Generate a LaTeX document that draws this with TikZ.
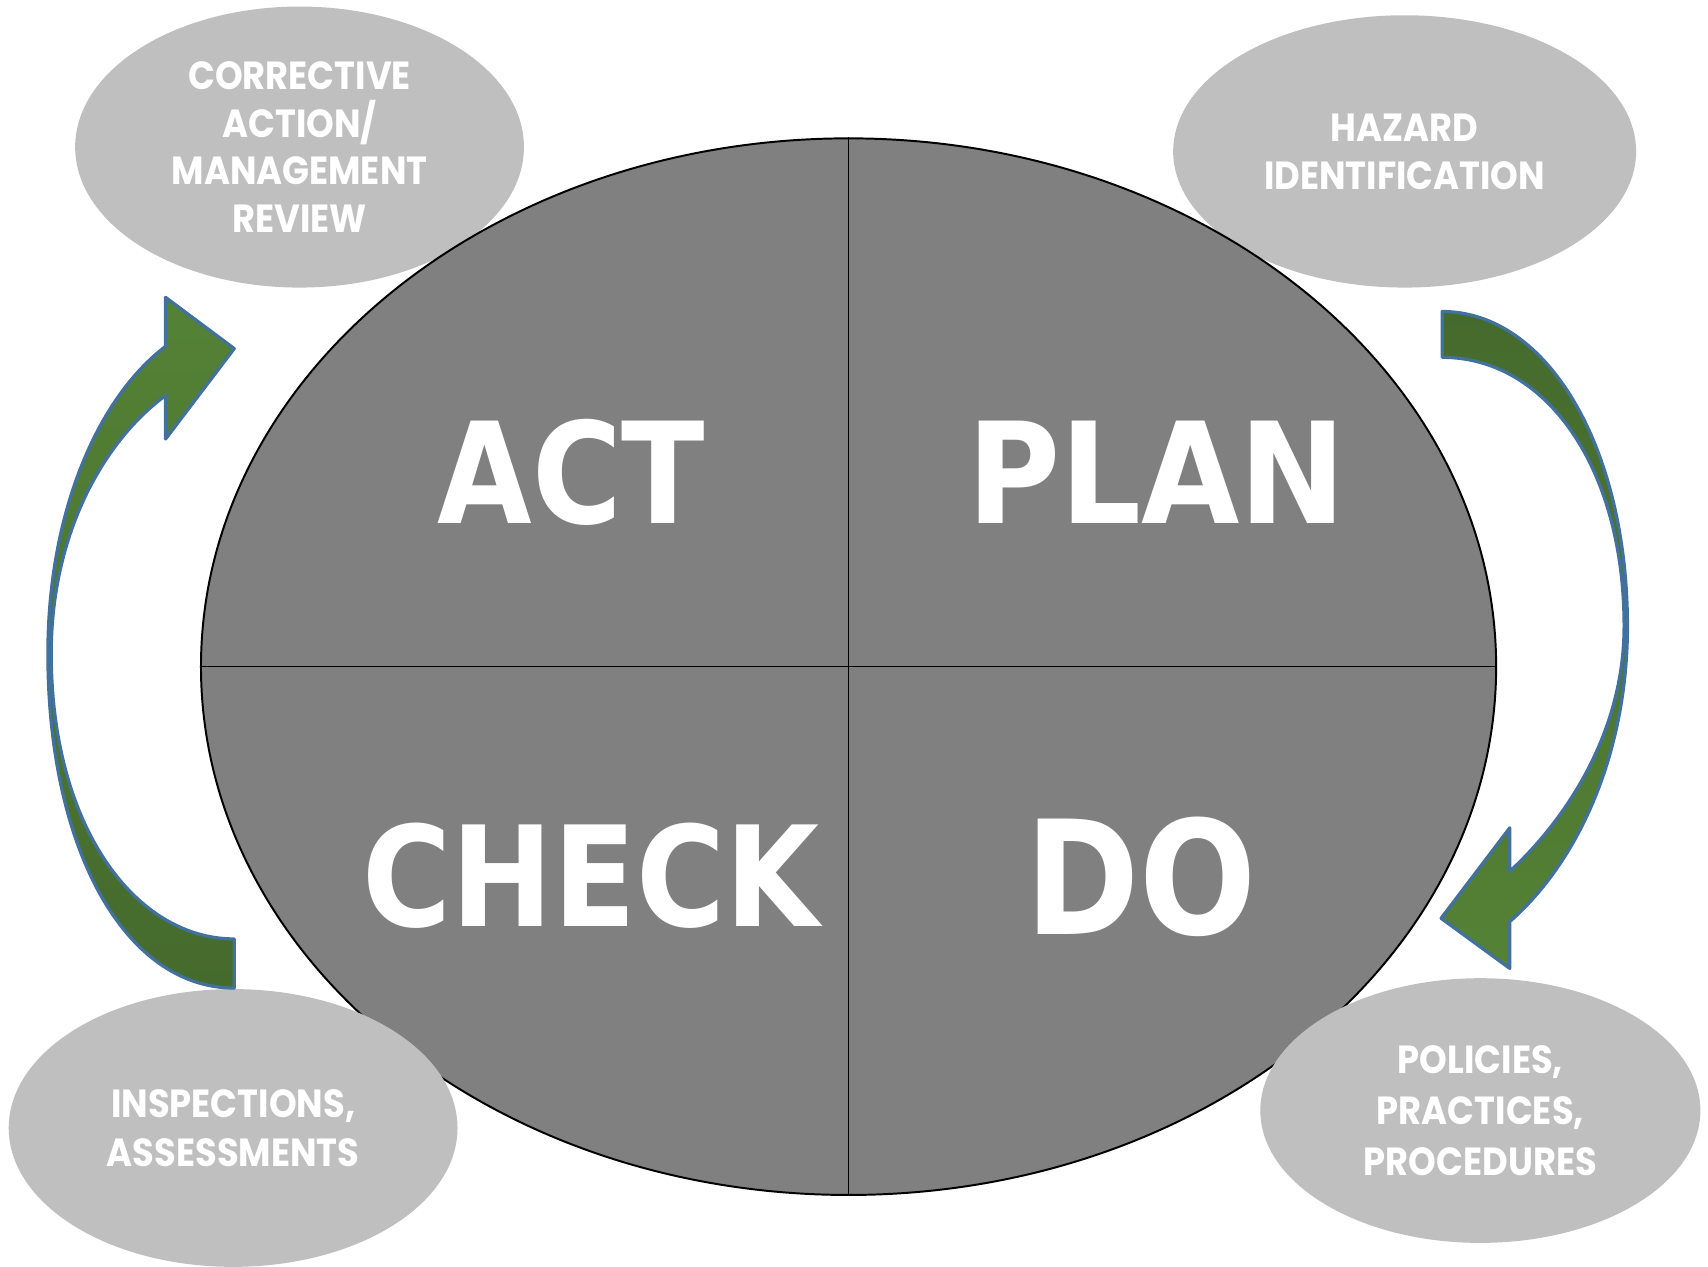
\documentclass[tikz,border=0pt]{standalone}
\usepackage{fontspec}
\usetikzlibrary{shapes.geometric}
\newfontfamily\bigfont[FakeStretch=0.87]{DejaVu Sans}
\newfontfamily\bigfontw[FakeStretch=0.905]{DejaVu Sans}
\newfontfamily\lblfont[FakeStretch=0.9]{Poppins}
\definecolor{maingray}{HTML}{808080}
\definecolor{bubblegray}{HTML}{BFBFBF}
\definecolor{arrowlight}{HTML}{548235}
\definecolor{arrowdark}{HTML}{456A2D}
\definecolor{arrowline}{HTML}{41719C}
\begin{document}
\begin{tikzpicture}[x=0.5pt,y=-0.5pt,
  bubble/.style={ellipse, fill=bubblegray, inner sep=0pt, text=white, align=center,
    font=\lblfont\bfseries\fontsize{18}{22}\selectfont},
  bigword/.style={text=white, inner sep=0pt},
  cyclearrow/.style={draw=arrowline, line width=1.5pt, line join=round}]
\useasboundingbox (0,0) rectangle (1568,1163);
\fill[white] (0,0) rectangle (1568,1163);
% upper bubbles (behind the main ellipse)
\node[bubble, minimum width=206pt, minimum height=129pt] (tl) at (275,135)
  {CORRECTIVE\\ACTION/\\MANAGEMENT\\REVIEW};
\node[bubble, minimum width=212.5pt, minimum height=125pt] (tr) at (1289.5,139)
  {HAZARD\\IDENTIFICATION};
% main ellipse
\node[ellipse, fill=maingray, draw=black, line width=0.9pt, inner sep=0pt,
  minimum width=594.5pt, minimum height=485pt] (main) at (779,612) {};
\draw[black, line width=0.7pt] (main.north) -- (main.south);
\draw[black, line width=0.7pt] (main.west) -- (main.east);
\node[bigword, font=\bigfont\bfseries\fontsize{64.5}{70}\selectfont] (act) at (524.5,434) {ACT};
\node[bigword, font=\bigfontw\bfseries\fontsize{64.5}{70}\selectfont] (plan) at (1062,434) {PLAN};
\node[bigword, font=\bigfont\bfseries\fontsize{64}{70}\selectfont] (check) at (542.5,804) {CHECK};
\node[bigword, font=\bigfont\bfseries\fontsize{72.7}{78}\selectfont] (do) at (1047.5,805) {DO};
% lower bubbles (in front of the main ellipse)
\node[bubble, minimum width=206pt, minimum height=127.5pt,
  font=\lblfont\bfseries\fontsize{18}{22.5}\selectfont] (bl) at (214,1035.5)
  {INSPECTIONS,\\ASSESSMENTS};
\node[bubble, minimum width=202pt, minimum height=121.5pt,
  font=\lblfont\bfseries\fontsize{18}{23.5}\selectfont] (br) at (1359,1019.5)
  {POLICIES,\\PRACTICES,\\PROCEDURES};
% left curved arrow (CHECK -> ACT)
\path[cyclearrow, top color=arrowlight, bottom color=arrowdark]
  (215,862) .. controls (125,862) and (47,760) .. (47,600)
  .. controls (47,490) and (95,405) .. (152,363)
  -- (152,403) -- (215,320) -- (152,273) -- (152,318)
  .. controls (90,365) and (44,470) .. (44,600)
  .. controls (44,780) and (115,907) .. (215,907) -- cycle;
% right curved arrow (PLAN -> DO)
\path[cyclearrow, top color=arrowdark, bottom color=arrowlight]
  (1324,286) .. controls (1420,286) and (1494,410) .. (1494,575)
  .. controls (1494,690) and (1450,790) .. (1386,846)
  -- (1386,889) -- (1323,843) -- (1386,760) -- (1386,800)
  .. controls (1440,750) and (1491,670) .. (1491,575)
  .. controls (1491,430) and (1420,328) .. (1324,328) -- cycle;
\end{tikzpicture}
\end{document}
